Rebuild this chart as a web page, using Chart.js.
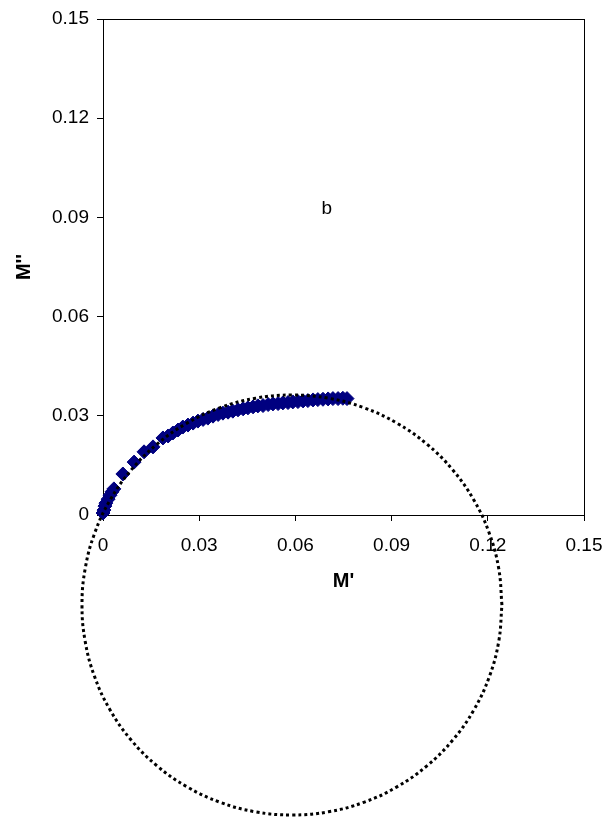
<!DOCTYPE html>
<html>
<head>
<meta charset="utf-8">
<script src="https://cdn.jsdelivr.net/npm/chart.js@4/dist/chart.umd.min.js"></script>
<style>
body{margin:0;background:#fff}
#wrap{position:relative;width:608px;height:818px}
</style>
</head>
<body>
<div id="wrap"><canvas id="modulusChart"></canvas></div>
<script>

const ticksX=[0,0.03,0.06,0.09,0.12,0.15]
const ticksY=[0,0.03,0.06,0.09,0.12,0.15]

// measured M' / M'' points
const mReal=[0,0.0003,0.0006,0.0009,0.0016,0.0022,0.0028,0.0034,0.0062,0.0097,0.0128,0.0156,
0.0187,0.0203,0.0218,0.0234,0.0249,0.0265,0.0281,0.0296,0.0312,0.0327,0.0343,0.0359,0.0374,
0.0390,0.0405,0.0421,0.0437,0.0452,0.0468,0.0483,0.0499,0.0515,0.0530,0.0546,0.0561,0.0577,
0.0592,0.0608,0.0624,0.0639,0.0655,0.0670,0.0686,0.0702,0.0717,0.0733,0.0748,0.0761]
const mImag=[0.0006,0.0015,0.0027,0.0036,0.0048,0.0060,0.0070,0.0079,0.0124,0.0160,0.0191,0.0206,
0.0233,0.0239,0.0248,0.0257,0.0266,0.0272,0.0278,0.0284,0.0289,0.0293,0.0299,0.0304,0.0308,
0.0311,0.0314,0.0318,0.0321,0.0324,0.0327,0.0330,0.0331,0.0334,0.0336,0.0337,0.0339,0.0340,
0.0342,0.0343,0.0345,0.0346,0.0348,0.0349,0.0350,0.0351,0.0352,0.0352,0.0353,0.0352]

// fitted circle
const arcX=[0.12441,0.12341,0.12046,0.11564,0.10909,0.10102,0.09167,0.08132,0.07030,0.05893,
0.04756,0.03654,0.02619,0.01684,0.00877,0.00222,-0.00260,-0.00555,-0.00655,-0.00555,-0.00260,
0.00222,0.00877,0.01684,0.02619,0.03654,0.04756,0.05893,0.07030,0.08132,0.09167,0.10102,
0.10909,0.11564,0.12046,0.12341,0.12441]
const arcY=[-0.02722,-0.01620,-0.00550,0.00453,0.01360,0.02142,0.02777,0.03245,0.03532,0.03628,
0.03532,0.03245,0.02777,0.02142,0.01360,0.00453,-0.00550,-0.01620,-0.02722,-0.03824,-0.04894,
-0.05897,-0.06804,-0.07586,-0.08221,-0.08689,-0.08976,-0.09072,-0.08976,-0.08689,-0.08221,
-0.07586,-0.06804,-0.05897,-0.04894,-0.03824,-0.02722]

const noteText="b"
const noteX=0.0698
const noteY=0.0925

function toPoints(xs,ys)
{
let pts=[]
for(let i=0;i<xs.length;i++)
{
pts.push({x:xs[i],y:ys[i]})
}
return pts
}

function fmt(v)
{
if(v===0) return "0"
return v.toFixed(2)
}

const boxPlugin=
{
id:"box",
beforeDatasetsDraw(chart)
{
const a=chart.chartArea
const ctx=chart.ctx
ctx.save()
ctx.strokeStyle="#000"
ctx.lineWidth=1
ctx.strokeRect(Math.round(a.left)+0.5,Math.round(a.top)+0.5,Math.round(a.right-a.left),Math.round(a.bottom-a.top))
ctx.restore()
},
afterDraw(chart)
{
const ctx=chart.ctx
ctx.save()
ctx.fillStyle="#000"
ctx.font="19px 'Liberation Sans', Arial, sans-serif"
ctx.textAlign="center"
ctx.textBaseline="middle"
ctx.fillText(noteText,chart.scales.x.getPixelForValue(noteX),chart.scales.y.getPixelForValue(noteY))
ctx.restore()
}
}

const tickFont={family:"'Liberation Sans', Arial, sans-serif",size:19}
const titleFont={family:"'Liberation Sans', Arial, sans-serif",size:20,weight:"bold"}

new Chart(document.getElementById("modulusChart"),
{
type:"scatter",
data:
{
datasets:[
{
label:"fit",
data:toPoints(arcX,arcY),
showLine:true,
tension:0.4,
borderColor:"#000",
borderWidth:3,
borderDash:[3,3],
pointRadius:0,
clip:false,
order:0
},
{
label:"M''",
data:toPoints(mReal,mImag),
showLine:false,
pointStyle:"rectRot",
pointRadius:7,
pointBorderWidth:1,
pointBackgroundColor:"#000080",
pointBorderColor:"#000080",
clip:false,
order:1
}
]
},
options:
{
responsive:true,
maintainAspectRatio:false,
animation:false,
layout:{padding:{left:0,top:19,right:24,bottom:213}},
plugins:{legend:{display:false},tooltip:{enabled:false}},
scales:
{
x:
{
type:"linear",
min:0,
max:0.15,
afterBuildTicks:axis=>{axis.ticks=ticksX.map(v=>({value:v}))},
afterFit:axis=>{axis.height=90;axis.paddingLeft=0;axis.paddingRight=0},
ticks:{callback:v=>fmt(v),color:"#000",font:tickFont,padding:13,maxRotation:0},
grid:{drawOnChartArea:false,drawTicks:true,tickLength:6,color:"#000"},
border:{display:true,color:"#000",width:1},
title:{display:true,text:"M'",color:"#000",font:titleFont,padding:{top:0,bottom:12}}
},
y:
{
type:"linear",
min:0,
max:0.15,
afterBuildTicks:axis=>{axis.ticks=ticksY.map(v=>({value:v}))},
afterFit:axis=>{axis.width=103;axis.paddingTop=0;axis.paddingBottom=0},
ticks:{callback:v=>fmt(v),color:"#000",font:tickFont,padding:8},
grid:{drawOnChartArea:false,drawTicks:true,tickLength:6,color:"#000"},
border:{display:true,color:"#000",width:1},
title:{display:true,text:"M''",color:"#000",font:titleFont,padding:{top:12,bottom:0}}
}
}
},
plugins:[boxPlugin]
})

</script>
</body>
</html>
